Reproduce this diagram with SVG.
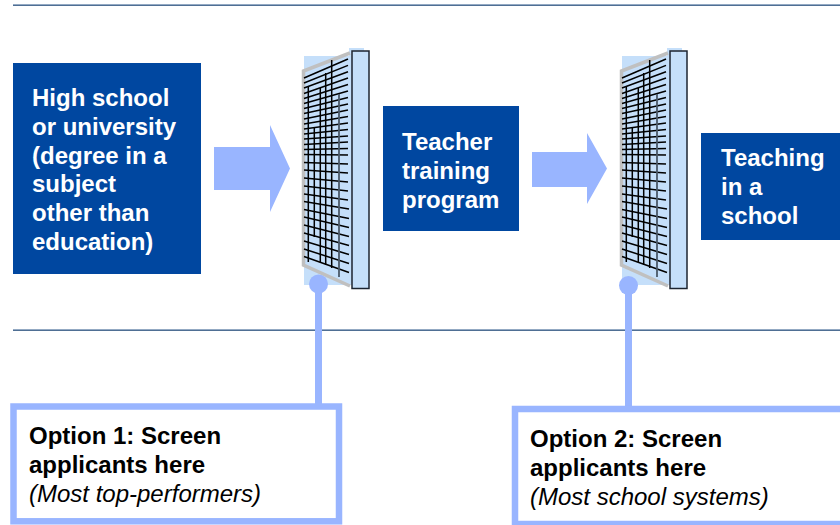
<svg xmlns="http://www.w3.org/2000/svg" width="840" height="525" viewBox="0 0 840 525">
<style>
.rt{stroke:#93a9c3;stroke-width:1;fill:none}
.rb{stroke:#4f6f94;stroke-width:1;fill:none}
.box{fill:#0047a0}
.bt{font-family:"Liberation Sans",Arial,sans-serif;font-weight:bold;font-size:24px;fill:#fff}
.arrow{fill:#99b5ff}
.stem{stroke:#99b5ff;stroke-width:7;fill:none}
.dot{fill:#99b5ff}
.opt{fill:#fff;stroke:#99b5ff;stroke-width:6.500}
.ot{font-family:"Liberation Sans",Arial,sans-serif;font-weight:bold;font-size:24px;fill:#000}
.oi{font-family:"Liberation Sans",Arial,sans-serif;font-style:italic;font-size:24px;fill:#000}
.h{stroke:#000;stroke-width:1.500;fill:none}
.v{stroke:#000;stroke-width:1.500;fill:none}
.vg{stroke:#4a5868;stroke-width:1.800;fill:none}
</style>
<defs>
<g id="screen">
<path d="M304 56H349V48H364V285H304Z" fill="#c5dffa"/>
<path d="M350 53L303.500 71V265L350 286" fill="none" stroke="#c0c0c0" stroke-width="3.500"/>
<path class="h" d="M304 78L348 59M304 83L348 65.400M304 88L348 71.800M304 93.500L348 78M304 98.500L348 84.500M304 103.500L348 91M304 108.500L348 97.500M304 113.500L348 104M304 119L348 110M304 124L348 116.500M304 129L348 123M304 134L348 129.500M304 139L348 136M304 144.500L348 142M304 149.500L348 148.500M304 154.500L348 155M304 162.500L348 164M304 170L348 173M304 178L348 182M304 186L348 191M304 194L348 200M304 201.500L349 209M304 209.500L349 218.500M304 217L349 227.500M304 225L349 236.500M304 233L349 245.500M304 241L349 254.500M304 249L349 263.500M304 256.500L349 272.500"/>
<path class="v" d="M308.300 86V262M314.300 128V237M320.300 88V262M325.700 73V265M331.700 60V268"/>
<path class="vg" d="M339 94V277"/>
<rect x="352" y="51" width="17" height="237.500" fill="#c5dffa" stroke="#1c2430" stroke-width="1.500"/>
</g>
</defs>
<g id="rules">
<line class="rt" x1="13" y1="4.500" x2="840" y2="4.500"/>
<line class="rb" x1="13" y1="5.500" x2="840" y2="5.500"/>
<line class="rt" x1="13" y1="329.500" x2="840" y2="329.500"/>
<line class="rb" x1="13" y1="330.500" x2="840" y2="330.500"/>
</g>
<g id="connectors">
<path class="arrow" d="M214 147H270V125L290 168.500L270 212V190H214Z"/>
<path class="arrow" d="M532 152H587V133L607 168.500L587 204V187H532Z"/>
<path class="stem" d="M318.500 284V406"/>
<path class="stem" d="M628.500 285V409"/>
</g>
<g id="node-highschool">
<rect class="box" x="13" y="63" width="188" height="211"/>
<text class="bt" x="32" y="106">High school</text>
<text class="bt" x="32" y="134.500">or university</text>
<text class="bt" x="32" y="163.500">(degree in a</text>
<text class="bt" x="32" y="192">subject</text>
<text class="bt" x="32" y="221">other than</text>
<text class="bt" x="32" y="250">education)</text>
</g>
<g id="filter-1">
<use href="#screen"/>
<circle class="dot" cx="318.500" cy="284" r="9.500"/>
</g>
<g id="node-training">
<rect class="box" x="383" y="106" width="136" height="125"/>
<text class="bt" x="402" y="150">Teacher</text>
<text class="bt" x="402" y="179">training</text>
<text class="bt" x="402" y="207.500">program</text>
</g>
<g id="filter-2">
<use href="#screen" x="318"/>
<circle class="dot" cx="628.500" cy="285.500" r="9.500"/>
</g>
<g id="node-teaching">
<rect class="box" x="701" y="133" width="139" height="107"/>
<text class="bt" x="721" y="166">Teaching</text>
<text class="bt" x="721" y="195">in a</text>
<text class="bt" x="721" y="224">school</text>
</g>
<g id="node-option1">
<rect class="opt" x="13.500" y="406.500" width="325.500" height="114.800"/>
<text class="ot" x="29" y="444">Option 1: Screen</text>
<text class="ot" x="29" y="473">applicants here</text>
<text class="oi" x="29" y="502">(Most top-performers)</text>
</g>
<g id="node-option2">
<rect class="opt" x="515" y="409" width="340" height="115"/>
<text class="ot" x="530" y="447">Option 2: Screen</text>
<text class="ot" x="530" y="476">applicants here</text>
<text class="oi" x="530" y="505">(Most school systems)</text>
</g>
</svg>
